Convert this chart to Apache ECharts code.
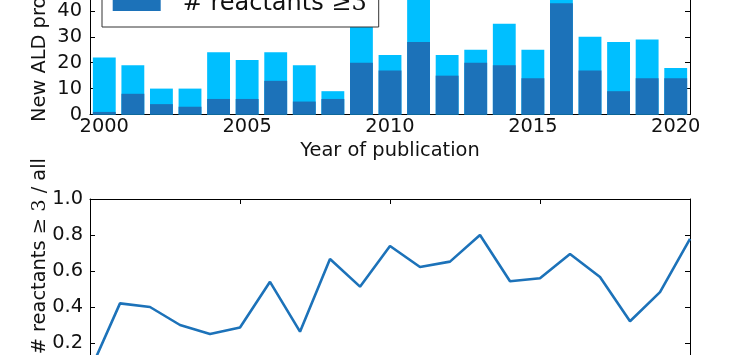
<!DOCTYPE html>
<html>
<head>
<meta charset="utf-8">
<script src="https://cdn.jsdelivr.net/npm/echarts@6/dist/echarts.min.js"></script>
<style>
html,body{margin:0;padding:0;background:#fff;}
#c{width:738px;height:355px;}
</style>
</head>
<body>
<div id="c"></div>
<script>
var years = ['2000','2001','2002','2003','2004','2005','2006','2007','2008','2009','2010','2011','2012','2013','2014','2015','2016','2017','2018','2019','2020'];
var allCounts = [22,19,10,10,24,21,24,19,9,39,23,45,23,25,35,25,62,30,28,29,18];
var reactants3Counts = [1,8,4,3,6,6,13,5,6,20,17,28,15,20,19,14,43,17,9,14,14];
var ratioValues = [0.045,0.42,0.40,0.30,0.25,0.286,0.54,0.263,0.667,0.513,0.739,0.622,0.652,0.80,0.543,0.56,0.694,0.567,0.321,0.483,0.778];

var FONT = 'DejaVu Sans';
var TXT = '#111';
var LIGHT = '#00BFFF';
var DARK = '#1c72b9';

var chart = echarts.init(document.getElementById('c'), null, {renderer:'canvas'});

function axisCommon(){
  return {
    axisLine:{show:true, onZero:false, lineStyle:{color:'#000', width:1}},
    axisTick:{show:true, inside:true, length:5, lineStyle:{color:'#000', width:1}},
    splitLine:{show:false}
  };
}

var option = {
  animation:false,
  backgroundColor:'#fff',
  textStyle:{fontFamily:FONT},
  grid:[
    {left:90, top:-66.8, width:600, height:181.3, containLabel:false, outerBoundsMode:'none'},
    {left:90, top:199, width:600, height:180, containLabel:false, outerBoundsMode:'none'}
  ],
  xAxis:[
    Object.assign(axisCommon(), {
      type:'category', gridIndex:0, data:years, position:'bottom',
      boundaryGap:true,
      axisTick:{show:true, inside:true, length:5, alignWithLabel:true,
        interval:function(i){return i%5===0;}, lineStyle:{color:'#000'}},
      axisLabel:{interval:function(i){return i%5===0;}, fontSize:19.4, color:TXT, fontFamily:FONT, margin:3},
      name:'Year of publication', nameLocation:'middle', nameGap:25,
      nameTextStyle:{fontSize:19.4, color:TXT, fontFamily:FONT}
    }),
    Object.assign(axisCommon(), {
      type:'value', gridIndex:1, min:2000, max:2020, interval:5, position:'bottom',
      axisLabel:{show:true, fontSize:19.4, color:TXT, fontFamily:FONT,
        formatter:function(v){return String(v);}}
    }),
    Object.assign(axisCommon(), {
      type:'value', gridIndex:1, min:2000, max:2020, interval:5, position:'top',
      axisLabel:{show:false}
    })
  ],
  yAxis:[
    Object.assign(axisCommon(), {
      type:'value', gridIndex:0, min:0, max:70, interval:10, position:'left',
      axisLabel:{fontSize:19.4, color:TXT, fontFamily:FONT, margin:8}
    }),
    Object.assign(axisCommon(), {
      type:'value', gridIndex:0, min:0, max:70, interval:10, position:'right',
      axisLabel:{show:false}
    }),
    Object.assign(axisCommon(), {
      type:'value', gridIndex:1, min:0, max:1, interval:0.2, position:'left',
      axisLabel:{fontSize:19.4, color:TXT, fontFamily:FONT, margin:7,
        formatter:function(v){return v.toFixed(1);}}
    }),
    Object.assign(axisCommon(), {
      type:'value', gridIndex:1, min:0, max:1, interval:0.2, position:'right',
      axisLabel:{show:false}
    })
  ],
  legend:{
    orient:'vertical', left:102, top:-57,
    padding:[9,12,9,10.7], itemGap:10,
    itemWidth:48, itemHeight:14,
    backgroundColor:'#fff', borderColor:'#333', borderWidth:1, borderRadius:0,
    data:[{name:'all', icon:'rect'}, {name:'# reactants ≥3', icon:'rect'}],
    selectedMode:false,
    formatter:function(name){
      if(name.charAt(0)==='#'){ return '{a|# reactants} {m|≥3}'; }
      return '{a|' + name + '}';
    },
    textStyle:{
      fontSize:24, lineHeight:28, color:TXT, fontFamily:FONT, padding:[0,0,0,17],
      rich:{
        a:{fontSize:24, lineHeight:28, fontFamily:FONT, color:TXT},
        m:{fontSize:24, lineHeight:28, fontFamily:'DejaVu Serif', color:TXT}
      }
    }
  },
  graphic:[
    {
      type:'text', x:39.5, y:122, rotation:Math.PI/2,
      style:{
        text:'New ALD processes',
        textAlign:'left', textVerticalAlign:'middle',
        fill:TXT, font:'19.4px DejaVu Sans'
      }
    },
    {
      type:'text', x:39.5, y:158, rotation:Math.PI/2,
      style:{
        text:'{a|# reactants }{m|≥ 3}{a| / all}',
        textAlign:'right', textVerticalAlign:'middle',
        fill:TXT, font:'19.4px DejaVu Sans',
        rich:{
          a:{fontSize:19.4, fontFamily:FONT, fill:TXT},
          m:{fontSize:19.4, fontFamily:'DejaVu Serif', fill:TXT}
        }
      }
    }
  ],
  series:[
    {
      name:'all', type:'bar', xAxisIndex:0, yAxisIndex:0,
      data:allCounts, barWidth:'80%', barGap:'-100%',
      itemStyle:{color:LIGHT}
    },
    {
      name:'# reactants ≥3', type:'bar', xAxisIndex:0, yAxisIndex:0,
      data:reactants3Counts, barWidth:'80%', barGap:'-100%',
      itemStyle:{color:DARK}
    },
    {
      name:'ratio', type:'line', xAxisIndex:1, yAxisIndex:2,
      data:years.map(function(y,i){return [Number(y), ratioValues[i]];}),
      showSymbol:false, symbol:'none',
      lineStyle:{color:DARK, width:2.6},
      itemStyle:{color:DARK}
    }
  ]
};
chart.setOption(option);
</script>
</body>
</html>
